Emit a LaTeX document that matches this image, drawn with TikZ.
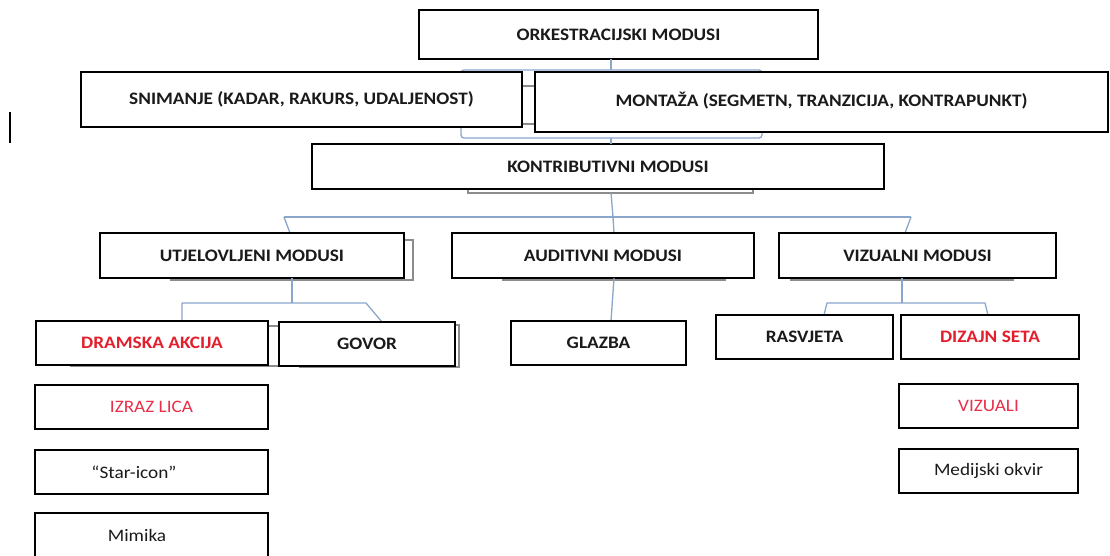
\documentclass[tikz,border=0pt]{standalone}
\usepackage{fontspec}
\setmainfont{Carlito}[FakeStretch=1.1]
\definecolor{txt}{HTML}{1A1A1A}
\definecolor{redtxt}{HTML}{E31E2D}
\definecolor{pinkred}{HTML}{E8304A}
\definecolor{conn}{HTML}{8AA6CA}
\definecolor{shade}{HTML}{8C8C8C}
\tikzset{
  box/.style={draw=black, line width=1.8pt, fill=white, rectangle, inner sep=0pt,
    text=txt, font=\fontsize{17.5}{20}\selectfont},
  bbox/.style={box, font=\fontsize{17.5}{20}\selectfont\bfseries},
  shadowbox/.style={draw=shade, line width=1.3pt, fill=white},
  link/.style={draw=conn, line width=1.3pt, line join=round},
}
\begin{document}
\begin{tikzpicture}[x=1pt,y=-1pt]
\useasboundingbox (0,0) rectangle (1110,556);
\fill[white] (0,0) rectangle (1110,556);

% stray cursor mark
\draw[shade, line width=1.2pt] (10,112) -- (10,143);

% top group connector (behind)
\draw[link, rounded corners=3pt] (461,70) rectangle (762,138);
\draw[shadowbox] (500,86) rectangle (545,124);

% top level
\node[bbox, minimum width=399pt, minimum height=49pt] (ork) at (618.5,34.5) {ORKESTRACIJSKI MODUSI};
\node[bbox, minimum width=441pt, minimum height=55pt] (sni) at (301.5,99.5) {SNIMANJE (KADAR, RAKURS, UDALJENOST)};
\node[bbox, minimum width=573pt, minimum height=60pt] (mon) at (821.5,102) {\raisebox{5pt}{MONTAŽA (SEGMETN, TRANZICIJA, KONTRAPUNKT)}};

\coordinate (orkb) at (611,59);
\coordinate (grt) at (611,70);
\coordinate (grb) at (611,138);
\draw[link] (orkb) -- (grt);

% contributive
\draw[shadowbox] (468,160) rectangle (753,193);
\node[bbox, minimum width=572pt, minimum height=45pt] (kon) at (598,166.5) {\hspace*{20pt}KONTRIBUTIVNI MODUSI};
\draw[link] (grb) -- (611,144);

% second tier connectors
\coordinate (kb) at (611,193);
\coordinate (hm) at (613,217);
\coordinate (hl) at (284,217);
\coordinate (hr) at (911,217);
\coordinate (ut) at (290,233);
\coordinate (at) at (614,233);
\coordinate (vt) at (905,233);
\draw[link] (hl) -- (hr);
\draw[link] (kb) -- (hm) -- (at);
\draw[link] (hl) -- (ut);
\draw[link] (hr) -- (vt);

% second tier boxes
\draw[shadowbox] (171,240) rectangle (413,280);
\draw[shadowbox] (503,240) rectangle (725,280);
\draw[shadowbox] (791,240) rectangle (1013,280);
\node[bbox, minimum width=304pt, minimum height=45pt] (ute) at (252,255.5) {UTJELOVLJENI MODUSI};
\node[bbox, minimum width=302pt, minimum height=45pt] (aud) at (603,255.5) {AUDITIVNI MODUSI};
\node[bbox, minimum width=277pt, minimum height=45pt] (viz) at (917.5,255.5) {VIZUALNI MODUSI};

% third tier connectors
\coordinate (ub) at (292,278);
\coordinate (um) at (292,303);
\coordinate (ul) at (182,303);
\coordinate (ur) at (366,303);
\coordinate (dt) at (182,321);
\coordinate (gt) at (382,322);
\draw[link] (ub) -- (um);
\draw[link] (dt) -- (ul) -- (ur) -- (gt);

\coordinate (ab) at (614,278);
\coordinate (glt) at (611,321);
\draw[link] (ab) -- (glt);

\coordinate (vb) at (902,278);
\coordinate (vm) at (902,303);
\coordinate (vl) at (827,303);
\coordinate (vr) at (985,303);
\coordinate (rt) at (824,315);
\coordinate (dzt) at (988,315);
\draw[link] (vb) -- (vm);
\draw[link] (rt) -- (vl) -- (vr) -- (dzt);

% third tier boxes
\draw[shadowbox] (71,326) rectangle (280,366);
\draw[shadowbox] (300,325) rectangle (459,367);
\node[bbox, minimum width=232pt, minimum height=44pt, text=redtxt] (dra) at (152,343) {DRAMSKA AKCIJA};
\node[bbox, minimum width=176pt, minimum height=44pt] (gov) at (367,344) {GOVOR};
\node[bbox, minimum width=175pt, minimum height=44pt] (gla) at (598.5,343) {GLAZBA};
\node[bbox, minimum width=177pt, minimum height=44pt] (ras) at (804.5,337) {RASVJETA};
\node[bbox, minimum width=178pt, minimum height=44pt, text=redtxt] (diz) at (990,337) {DIZAJN SETA};

% lists
\node[box, minimum width=233pt, minimum height=44pt, text=pinkred] (izr) at (151.5,407) {IZRAZ LICA};
\node[box, minimum width=233pt, minimum height=44pt] (sta) at (151.5,472) {“Star-icon”\hspace*{35pt}};
\node[box, minimum width=233pt, minimum height=47pt] (mim) at (151.5,536.5) {\raisebox{3pt}{Mimika}\hspace*{29pt}};
\node[box, minimum width=179pt, minimum height=44pt, text=pinkred] (vis) at (988.5,406) {VIZUALI};
\node[box, minimum width=179pt, minimum height=44pt] (med) at (988.5,471) {Medijski okvir};
\end{tikzpicture}
\end{document}
